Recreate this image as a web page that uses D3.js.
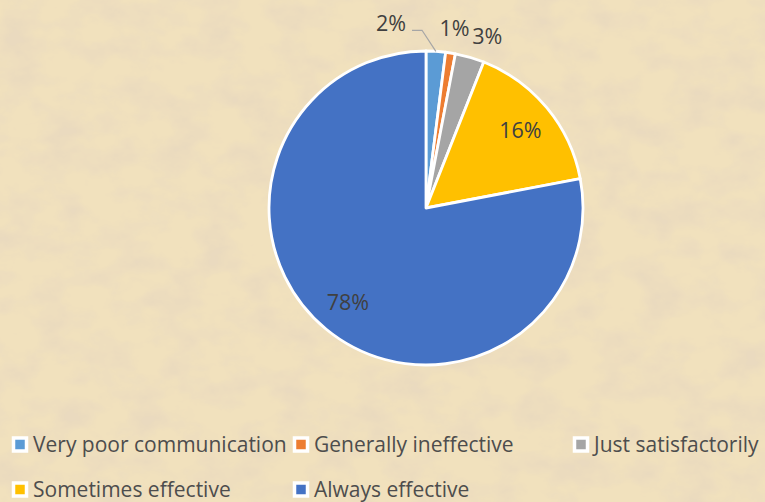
<!DOCTYPE html>
<html>
<head>
<meta charset="utf-8">
<script src="https://cdn.jsdelivr.net/npm/d3@7"></script>
<style>
  html, body { margin: 0; padding: 0; }
  body { width: 765px; height: 502px; overflow: hidden; }
  svg { display: block; }
</style>
</head>
<body>
<div id="chart"></div>
<script>
// data
const categories = ['Very poor communication', 'Generally ineffective', 'Just satisfactorily', 'Sometimes effective', 'Always effective'];
const shares = [2, 1, 3, 16, 78];
const sliceColors = ['#5B9BD5', '#ED7D31', '#A5A5A5', '#FFC000', '#4472C4'];

const W = 765, H = 502;
const cx = 426, cy = 208, r = 157;
const font = '"Open Sans", sans-serif';

const svg = d3.select('#chart').append('svg')
  .attr('width', W)
  .attr('height', H);

// parchment background
const defs = svg.append('defs');
const f = defs.append('filter').attr('id', 'paper')
  .attr('x', 0).attr('y', 0).attr('width', '100%').attr('height', '100%');
f.append('feTurbulence')
  .attr('type', 'fractalNoise')
  .attr('baseFrequency', '0.025 0.035')
  .attr('numOctaves', 5)
  .attr('seed', 11)
  .attr('result', 'noise');
f.append('feColorMatrix')
  .attr('in', 'noise')
  .attr('type', 'matrix')
  .attr('values', '0 0 0 0 0.82  0 0 0 0 0.70  0 0 0 0 0.52  0 0 0 -2.4 1.45')
  .attr('result', 'tint');
f.append('feComposite').attr('in', 'tint').attr('in2', 'SourceGraphic').attr('operator', 'over');

svg.append('rect').attr('width', W).attr('height', H).attr('fill', '#f1e1bd');
svg.append('rect').attr('width', W).attr('height', H).attr('fill', '#f1e1bd').attr('filter', 'url(#paper)');

const pie = d3.pie().sort(null).value(d => d)(shares);
const arc = d3.arc().innerRadius(0).outerRadius(r);
const inLabel = d3.arc().innerRadius(r * 0.78).outerRadius(r * 0.78);

const g = svg.append('g').attr('transform', `translate(${cx},${cy})`);

g.selectAll('.slice')
  .data(pie)
  .enter().append('path')
  .attr('class', 'slice')
  .attr('d', arc)
  .attr('fill', (d, i) => sliceColors[i])
  .attr('stroke', '#fff')
  .attr('stroke-width', 2.8)
  .attr('stroke-linejoin', 'round');

// small slices get their labels outside; first one is nudged left with a leader
const outR = r + 25;
const nudge = [-0.25, 0, 0.06, 0, 0]; // radians
const push = [6, 0, 0, 0, 0]; // extra radial px
const pct = d => d.data + '%';

pie.forEach((d, i) => {
  const mid = (d.startAngle + d.endAngle) / 2;
  let x, y;
  if (d.data >= 10) {
    [x, y] = inLabel.centroid(d);
  } else {
    const a = mid + nudge[i];
    x = Math.sin(a) * (outR + push[i]);
    y = -Math.cos(a) * (outR + push[i]);
    if (nudge[i] < 0) {
      const ex = Math.sin(mid) * r, ey = -Math.cos(mid) * r;
      const ly = y + 7;
      g.append('polyline')
        .attr('points', [[x + 21, ly], [x + 31, ly], [ex, ey]].map(p => p.join(',')).join(' '))
        .attr('fill', 'none')
        .attr('stroke', '#a6a6a6')
        .attr('stroke-width', 1.2);
    }
  }
  g.append('text')
    .attr('x', x)
    .attr('y', y)
    .attr('text-anchor', 'middle')
    .attr('dy', '0.36em')
    .attr('font-family', font)
    .attr('font-size', 21.5)
    .attr('fill', '#404040')
    .text(pct(d));
});

// legend
const legCols = [12, 293, 573];
const legRows = [452, 497];
const leg = svg.append('g').attr('class', 'legend');
categories.forEach((c, i) => {
  const lx = legCols[i % 3], ly = legRows[Math.floor(i / 3)];
  leg.append('rect')
    .attr('x', lx + 1.5).attr('y', ly - 14)
    .attr('width', 13).attr('height', 13)
    .attr('fill', sliceColors[i])
    .attr('stroke', '#fff')
    .attr('stroke-width', 3.5);
  leg.append('text')
    .attr('x', lx + 21)
    .attr('y', ly)
    .attr('font-family', font)
    .attr('font-size', 21)
    .attr('fill', '#4d4d4d')
    .text(c);
});
</script>
</body>
</html>
